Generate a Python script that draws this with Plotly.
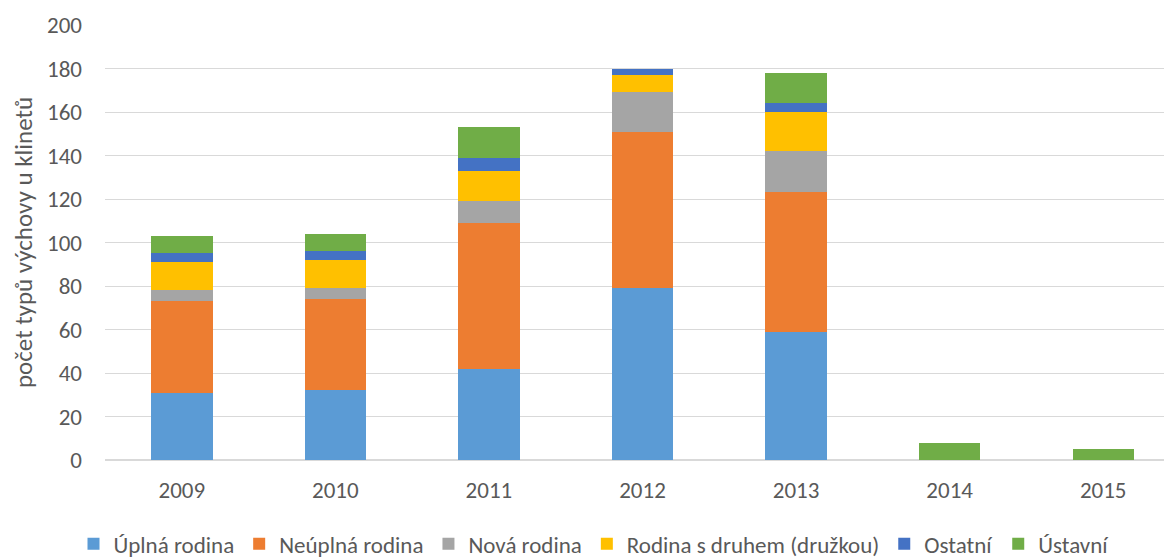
import plotly.graph_objects as go

years = ["2009", "2010", "2011", "2012", "2013", "2014", "2015"]
uplna = [31, 32, 42, 79, 59, 0, 0]
neuplna = [42, 42, 67, 72, 64, 0, 0]
nova = [5, 5, 10, 18, 19, 0, 0]
druh = [13, 13, 14, 8, 18, 0, 0]
ostatni = [4, 4, 6, 3, 4, 0, 0]
ustavni = [8, 8, 14, 0, 14, 8, 5]

series = [
    ("Úplná rodina", uplna, "#5B9BD5"),
    ("Neúplná rodina", neuplna, "#ED7D31"),
    ("Nová rodina", nova, "#A5A5A5"),
    ("Rodina s druhem (družkou)", druh, "#FFC000"),
    ("Ostatní", ostatni, "#4472C4"),
    ("Ústavní", ustavni, "#70AD47"),
]

fig = go.Figure()
for name, vals, col in series:
    fig.add_trace(go.Bar(x=years, y=vals, name=name, marker=dict(color=col, line=dict(width=0))))

font_fam = "Carlito, Lato, Roboto, Arial, sans-serif"
fig.update_layout(
    barmode="stack",
    bargap=0.6,
    width=1172, height=558,
    margin=dict(l=97, r=0, t=17, b=106),
    plot_bgcolor="white", paper_bgcolor="white",
    font=dict(family=font_fam, size=23, color="#595959"),
    legend=dict(orientation="h", x=0.5, xanchor="center", xref="container",
                y=0.04, yanchor="middle", yref="container",
                font=dict(size=23, color="#595959"), traceorder="normal",
                itemwidth=30, tracegroupgap=0),
    yaxis=dict(range=[0, 200], dtick=20, showgrid=True, gridcolor="#D9D9D9", gridwidth=1,
               zeroline=True, zerolinecolor="#D9D9D9", zerolinewidth=1.5,
               ticks="", ticklabelstandoff=22, automargin=False,
               tickfont=dict(size=23, color="#595959"),
               title=dict(text="počet typů výchovy u klinetů", font=dict(size=25, color="#595959"), standoff=9)),
    xaxis=dict(showgrid=False, ticks="", showline=False, automargin=False,
               ticklabelstandoff=14, tickfont=dict(size=23, color="#595959")),
    showlegend=True,
)
fig.write_html("out.html")
